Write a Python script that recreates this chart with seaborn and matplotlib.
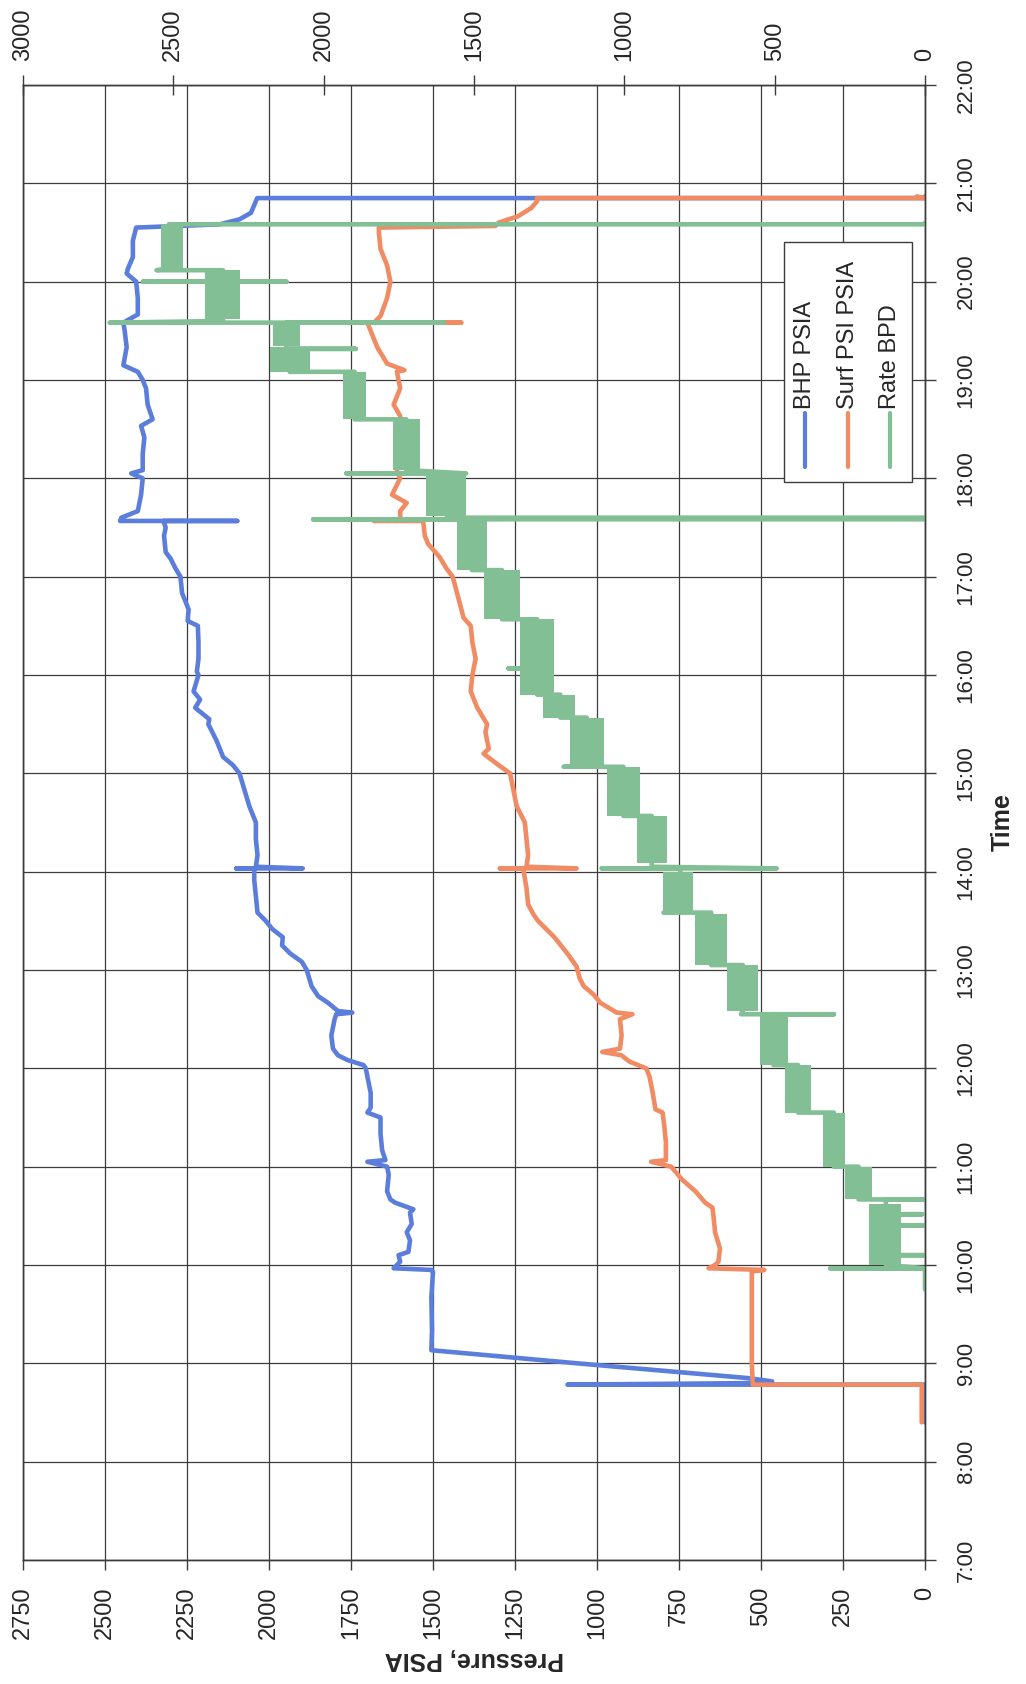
import matplotlib
matplotlib.use("Agg")
import matplotlib.pyplot as plt
from matplotlib.patches import Rectangle
import seaborn as sns
import pandas as pd

# --- data (times as H:MM) ---
bhp_time = ["8:24", "8:47", "8:47", "8:48", "8:49", "8:51", "9:00", "9:08", "9:20", "9:40",
            "9:56", "9:57", "9:58", "10:02", "10:06", "10:08", "10:15", "10:20", "10:25", "10:32",
            "10:34", "10:38", "10:40", "10:45", "10:55", "11:00", "11:03", "11:04", "11:10", "11:20",
            "11:30", "11:33", "11:36", "11:45", "11:55", "12:00", "12:02", "12:05", "12:08", "12:12",
            "12:20", "12:30", "12:33", "12:34", "12:35", "12:40", "12:44", "12:50", "13:00", "13:05",
            "13:10", "13:15", "13:20", "13:25", "13:30", "13:35", "13:45", "13:55", "14:02", "14:02",
            "14:02", "14:03", "14:10", "14:20", "14:30", "14:40", "14:50", "15:00", "15:05", "15:10",
            "15:20", "15:30", "15:33", "15:40", "15:45", "15:50", "16:00", "16:02", "16:10", "16:20",
            "16:30", "16:33", "16:40", "16:50", "17:00", "17:05", "17:11", "17:15", "17:25", "17:30",
            "17:34", "17:34", "17:34", "17:36", "17:40", "17:50", "18:00", "18:03", "18:05", "18:15",
            "18:25", "18:32", "18:36", "18:45", "18:55", "19:00", "19:05", "19:09", "19:20", "19:30",
            "19:35", "19:35", "19:35", "19:40", "19:50", "20:00", "20:05", "20:08", "20:15", "20:25",
            "20:33", "20:34", "20:35", "20:38", "20:42", "20:49", "20:51", "20:51", "20:52"]
bhp_psia = [0, 0, 1090, 490, 466, 540, 1060, 1505, 1503, 1505,
            1500, 1505, 1620, 1600, 1605, 1575, 1570, 1580, 1565, 1570,
            1560, 1615, 1630, 1640, 1635, 1640, 1700, 1645, 1655, 1660,
            1660, 1700, 1690, 1690, 1700, 1705, 1712, 1760, 1790, 1805,
            1810, 1800, 1795, 1746, 1790, 1820, 1850, 1870, 1885, 1900,
            1935, 1960, 1958, 1990, 2010, 2035, 2040, 2045, 2045, 2100,
            1897, 2040, 2035, 2040, 2040, 2060, 2075, 2090, 2110, 2140,
            2160, 2185, 2182, 2225, 2210, 2230, 2215, 2220, 2215, 2215,
            2217, 2248, 2245, 2265, 2270, 2285, 2300, 2315, 2320, 2315,
            2322, 2097, 2454, 2450, 2400, 2390, 2385, 2420, 2385, 2385,
            2380, 2390, 2355, 2370, 2375, 2385, 2400, 2444, 2434, 2440,
            2444, 2265, 2444, 2400, 2400, 2405, 2434, 2430, 2415, 2415,
            2405, 2280, 2150, 2090, 2055, 2040, 2036, 0, 0]

surf_time = ["8:24", "8:47", "8:47", "9:00", "9:30", "9:56", "9:57", "9:58", "10:00", "10:02",
             "10:10", "10:20", "10:30", "10:35", "10:38", "10:45", "10:52", "11:00", "11:03", "11:04",
             "11:15", "11:25", "11:33", "11:35", "11:45", "11:55", "12:00", "12:04", "12:08", "12:10",
             "12:12", "12:20", "12:30", "12:33", "12:34", "12:40", "12:45", "12:50", "12:55", "13:02",
             "13:10", "13:20", "13:30", "13:34", "13:40", "13:50", "14:02", "14:02", "14:02", "14:03",
             "14:10", "14:20", "14:30", "14:40", "14:50", "15:00", "15:05", "15:12", "15:15", "15:25",
             "15:30", "15:40", "15:50", "16:00", "16:10", "16:20", "16:30", "16:35", "16:45", "17:00",
             "17:05", "17:12", "17:20", "17:25", "17:34", "17:34", "17:35", "17:36", "17:40", "17:45",
             "17:50", "18:00", "18:04", "18:15", "18:30", "18:38", "18:45", "18:55", "19:05", "19:06",
             "19:10", "19:20", "19:30", "19:35", "19:35", "19:35", "19:39", "19:50", "20:00", "20:10",
             "20:20", "20:30", "20:33", "20:34", "20:36", "20:40", "20:45", "20:49", "20:51", "20:51",
             "20:52"]
surf_psia = [10, 10, 525, 528, 528, 528, 490, 660, 640, 630,
             625, 640, 645, 648, 670, 700, 740, 774, 835, 790,
             790, 795, 800, 822, 830, 840, 850, 900, 926, 984,
             930, 925, 930, 892, 940, 990, 1010, 1040, 1053, 1062,
             1090, 1130, 1180, 1194, 1210, 1215, 1225, 1296, 1062, 1215,
             1210, 1215, 1220, 1245, 1255, 1265, 1300, 1346, 1330, 1340,
             1335, 1365, 1385, 1380, 1370, 1380, 1385, 1407, 1420, 1440,
             1459, 1480, 1515, 1525, 1530, 1680, 1600, 1600, 1600, 1580,
             1625, 1600, 1610, 1605, 1600, 1600, 1620, 1600, 1610, 1587,
             1640, 1670, 1690, 1700, 1414, 1680, 1660, 1640, 1630, 1640,
             1660, 1665, 1665, 1310, 1300, 1240, 1200, 1183, 1183, 0,
             25]

rate_time = ["9:45", "9:58", "9:58", "9:58", "10:00", "10:06", "10:06", "10:06", "10:15", "10:24",
             "10:24", "10:24", "10:31", "10:31", "10:31", "10:37", "10:40", "10:40", "10:40", "11:00",
             "11:00", "11:33", "11:33", "12:02", "12:02", "12:33", "12:33", "12:33", "12:35", "13:03",
             "13:03", "13:35", "13:35", "13:36", "14:02", "14:02", "14:02", "14:03", "14:34", "14:34",
             "15:04", "15:04", "15:05", "15:34", "15:34", "15:48", "15:48", "16:04", "16:04", "16:04",
             "16:34", "16:34", "17:04", "17:04", "17:35", "17:35", "17:35", "17:36", "17:36", "18:03",
             "18:03", "18:03", "18:05", "18:36", "18:36", "19:05", "19:05", "19:19", "19:19", "19:19",
             "19:35", "19:35", "19:35", "19:36", "20:00", "20:00", "20:00", "20:00", "20:07", "20:07",
             "20:08", "20:35", "20:35", "20:36"]
rate_bpd = [0, 0, 315, 0, 130, 130, 0, 130, 100, 130,
            0, 140, 120, 10, 130, 130, 130, 0, 221, 221,
            303, 303, 422, 422, 504, 504, 303, 612, 606, 606,
            711, 711, 870, 814, 814, 1075, 493, 909, 909, 1003,
            1003, 1202, 1125, 1125, 1213, 1213, 1290, 1290, 1385, 1290,
            1290, 1407, 1407, 1507, 1507, 2035, 0, 0, 1590, 1592,
            1924, 1526, 1725, 1725, 1897, 1897, 2113, 2113, 1893, 2124,
            2124, 1600, 2712, 2335, 2335, 2601, 2124, 2335, 2335, 2556,
            2515, 2515, 0, 0]

# noise envelope of the rate trace for each choke step
band_start = ["10:00", "10:40", "11:00", "11:33", "12:02", "12:35", "13:03", "13:36", "14:05", "14:34",
              "15:05", "15:34", "15:48", "16:34", "17:04", "17:37", "18:05", "18:36", "19:05", "19:21",
              "19:37", "20:08"]
band_end = ["10:37", "11:00", "11:33", "12:02", "12:33", "13:03", "13:34", "14:00", "14:34", "15:04",
            "15:34", "15:48", "16:34", "17:04", "17:34", "18:02", "18:36", "19:05", "19:20", "19:35",
            "20:07", "20:35"]
band_low = [80, 177, 265, 378, 454, 555, 659, 770, 859, 947,
            1069, 1163, 1235, 1346, 1457, 1526, 1681, 1858, 2047, 2080,
            2279, 2468]
band_high = [185, 265, 340, 467, 548, 660, 765, 870, 958, 1058,
             1180, 1269, 1346, 1468, 1557, 1659, 1769, 1936, 2180, 2168,
             2396, 2540]


def hours(t):
    h, m = t.split(":")
    return int(h) + int(m) / 60.0


BLUE = "#5b7ddc"
ORANGE = "#f08b63"
GREEN = "#82bf95"
GRID = "#3c3c3c"

sns.set_style("white")
plt.rcParams["font.family"] = ["Liberation Sans", "DejaVu Sans"]

bhp = pd.DataFrame({"t": [hours(t) for t in bhp_time], "p": bhp_psia})
surf = pd.DataFrame({"t": [hours(t) for t in surf_time], "p": surf_psia})
rate = pd.DataFrame({"t": [hours(t) for t in rate_time], "q": rate_bpd})

fig = plt.figure(figsize=(10.26, 16.84), dpi=100)
ax = fig.add_axes([23 / 1026, 124 / 1684, 902 / 1026, 1475 / 1684])
ax2 = ax.twiny()

lw = 3.3
sns.lineplot(data=bhp, x="p", y="t", orient="y", sort=False, estimator=None,
             color=BLUE, lw=lw, ax=ax)
sns.lineplot(data=surf, x="p", y="t", orient="y", sort=False, estimator=None,
             color=ORANGE, lw=lw, ax=ax)

for t0, t1, lo, hi in zip(band_start, band_end, band_low, band_high):
    ax2.fill_betweenx([hours(t0), hours(t1)], lo, hi, color=GREEN, lw=0)
sns.lineplot(data=rate, x="q", y="t", orient="y", sort=False, estimator=None,
             color=GREEN, lw=lw, ax=ax2)

# primary axes: pressure (bottom, reversed) and time (right)
ax.set_xlim(2750, 0)
ax.set_xticks(range(0, 2751, 250))
ax.set_ylim(7, 22)
ax.set_yticks(range(7, 23))
ax.set_yticklabels([f"{h}:00" for h in range(7, 23)])
ax.yaxis.tick_right()
ax.yaxis.set_label_position("right")
ax.grid(True, color=GRID, lw=0.9)
ax.set_axisbelow(True)

ax.tick_params(axis="x", direction="out", length=7, width=1, color=GRID,
               labelsize=17, labelrotation=90, pad=12)
ax.tick_params(axis="y", direction="out", length=8, width=1, color=GRID,
               labelsize=16, labelrotation=90, pad=14)
for lab in ax.get_yticklabels():
    lab.set_verticalalignment("center")

ax.set_xlabel("Pressure, PSIA", fontsize=18, fontweight="bold", rotation=180, labelpad=6)

# secondary axis: rate (top, reversed)
ax2.set_xlim(3000, 0)
ax2.set_xticks(range(0, 3001, 500))
ax2.grid(False)
ax2.tick_params(axis="x", direction="inout", length=14, width=1, color=GRID,
                labelsize=17, labelrotation=90, pad=10)
ax2.set_xlabel("")
ax2.set_ylabel("")
ax.set_ylabel("Time", fontsize=18, fontweight="bold", rotation=90, labelpad=10)

for a in (ax, ax2):
    for s in a.spines.values():
        s.set_color(GRID)
        s.set_linewidth(1)

# legend drawn sideways to match the rotated page
ax2.add_patch(Rectangle((0.8437, 0.7308), 0.1419, 0.1628, transform=ax2.transAxes,
                        facecolor="white", edgecolor=GRID, lw=1, zorder=10))
entries = [("BHP PSIA", BLUE, 0.8670), ("Surf PSI PSIA", ORANGE, 0.9146), ("Rate BPD", GREEN, 0.9612)]
for label, col, xpos in entries:
    ax2.plot([xpos, xpos], [0.7410, 0.7776], transform=ax2.transAxes, color=col,
             lw=3, solid_capstyle="round", zorder=11)
    ax2.text(xpos, 0.7800, label, transform=ax2.transAxes, rotation=90,
             rotation_mode="anchor", ha="left", va="center", fontsize=17, zorder=11)

fig.savefig("out.png", dpi=100)
